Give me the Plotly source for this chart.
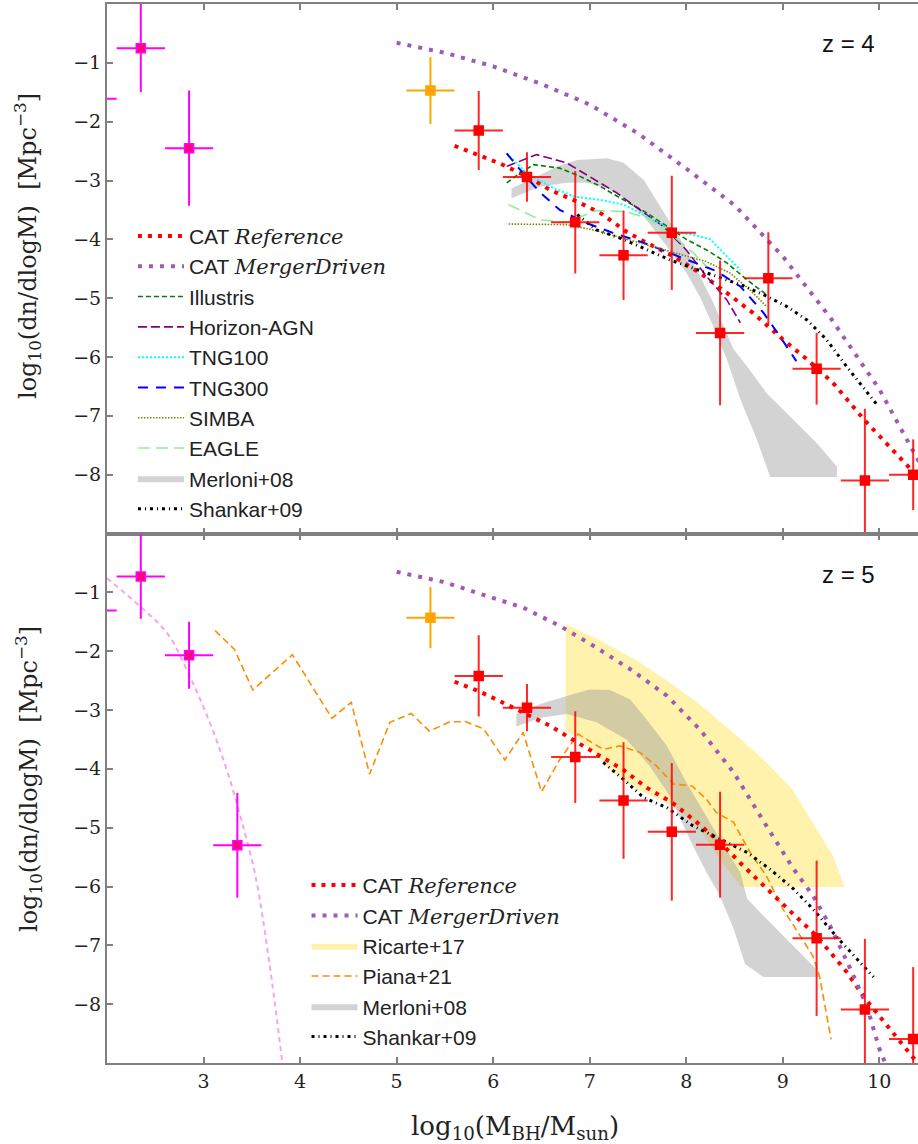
import plotly.graph_objects as go

# ---------------- data: z = 4 panel ----------------
mag4_x = [1.85, 2.35, 2.85]
mag4_y = [-1.61, -0.75, -2.45]
mag4_yerr = [0.75, 0.75, 0.98]
org4_x = [5.35]
org4_y = [-1.47]
org4_yerr = [0.57]
red4_x = [5.85, 6.35, 6.85, 7.35, 7.85, 8.35, 8.85, 9.35, 9.85, 10.35]
red4_y = [-2.15, -2.94, -3.71, -4.27, -3.89, -5.59, -4.66, -6.20, -8.10, -8.00]
red4_yerr = [0.67, 0.42, 0.87, 0.76, 0.97, 1.23, 0.78, 0.61, 1.22, 0.60]
bin_half = 0.25

catref4_x = [5.6, 6.07, 6.35, 6.59, 6.87, 7.11, 7.38, 7.59, 7.87, 8.14, 8.42, 8.69, 9.0, 9.25, 9.52, 9.85, 10.35, 10.6]
catref4_y = [-2.41, -2.71, -2.93, -3.16, -3.36, -3.55, -3.87, -4.06, -4.29, -4.57, -4.91, -5.25, -5.70, -6.04, -6.44, -7.08, -7.95, -8.40]
catmd4_x = [5.0, 5.5, 6.0, 6.5, 7.0, 7.5, 8.0, 8.5, 9.0, 9.5, 10.0, 10.45]
catmd4_y = [-0.66, -0.83, -1.06, -1.36, -1.71, -2.20, -2.80, -3.42, -4.29, -5.35, -6.55, -7.90]

illus_x = [6.14, 6.28, 6.42, 6.69, 6.9, 7.11, 7.35, 7.59, 7.8, 8.0, 8.21, 8.42, 8.63, 8.83]
illus_y = [-3.04, -2.87, -2.73, -2.79, -2.93, -3.10, -3.33, -3.55, -3.78, -4.00, -4.18, -4.40, -4.69, -4.94]
hagn_x = [6.14, 6.45, 6.76, 7.0, 7.28, 7.52, 7.76, 8.0, 8.21, 8.42, 8.56]
hagn_y = [-2.76, -2.56, -2.70, -2.93, -3.21, -3.50, -3.78, -4.18, -4.63, -5.03, -5.42]
tng100_x = [6.14, 6.35, 6.59, 6.83, 7.11, 7.35, 7.59, 7.87, 8.07, 8.25, 8.42, 8.56]
tng100_y = [-2.54, -2.88, -3.10, -3.27, -3.33, -3.41, -3.61, -3.87, -3.92, -4.00, -4.29, -4.52]
tng300_x = [6.14, 6.31, 6.49, 6.69, 6.93, 7.24, 7.56, 7.83, 8.07, 8.31, 8.56, 8.8, 8.97, 9.14]
tng300_y = [-2.54, -2.88, -3.21, -3.50, -3.70, -3.89, -4.06, -4.23, -4.38, -4.54, -4.80, -5.25, -5.65, -6.07]
simba_x = [6.16, 6.42, 6.76, 7.04, 7.35, 7.66, 7.97, 8.21, 8.45, 8.66, 8.83]
simba_y = [-3.74, -3.74, -3.75, -3.84, -3.98, -4.12, -4.26, -4.38, -4.57, -4.86, -5.14]
eagle_x = [6.16, 6.49, 6.76, 6.97, 7.07, 7.38, 7.59, 7.87, 8.07, 8.21]
eagle_y = [-3.41, -3.67, -3.71, -3.58, -3.51, -3.53, -3.64, -3.95, -4.23, -4.46]

merl4_x = [6.19, 6.42, 6.66, 6.87, 7.18, 7.35, 7.56, 7.73, 7.94, 8.11, 8.28, 8.49, 8.63, 8.83, 9.07, 9.35, 9.56, 9.56,
           8.87, 8.73, 8.56, 8.42, 8.28, 8.14, 8.0, 7.8, 7.56, 7.38, 7.18, 6.97, 6.76, 6.49, 6.19]
merl4_y = [-3.13, -2.96, -2.76, -2.65, -2.62, -2.70, -2.99, -3.44, -4.00, -4.52, -5.08, -5.87, -6.16, -6.61, -7.00, -7.46, -7.86, -8.04,
           -8.04, -7.40, -6.72, -6.04, -5.48, -4.97, -4.57, -4.12, -3.61, -3.33, -3.13, -3.04, -3.04, -3.10, -3.30]
shank4_x = [6.87, 7.07, 7.35, 7.59, 7.83, 8.07, 8.31, 8.56, 8.8, 9.04, 9.25, 9.45, 9.66, 9.97]
shank4_y = [-3.58, -3.84, -4.00, -4.18, -4.35, -4.49, -4.63, -4.77, -4.94, -5.14, -5.37, -5.70, -6.16, -6.80]

# ---------------- data: z = 5 panel ----------------
mag5_x = [1.85, 2.35, 2.85, 3.35]
mag5_y = [-1.31, -0.73, -2.07, -5.30]
mag5_yerr = [0.70, 0.72, 0.57, 0.89]
org5_x = [5.35]
org5_y = [-1.43]
org5_yerr = [0.52]
red5_x = [5.85, 6.35, 6.85, 7.35, 7.85, 8.35, 9.35, 9.85, 10.35]
red5_y = [-2.42, -2.96, -3.80, -4.54, -5.07, -5.29, -6.88, -8.09, -8.59]
red5_yerr = [0.69, 0.40, 0.78, 0.99, 1.17, 0.90, 1.32, 1.20, 1.22]

pink5_x = [2.0, 2.35, 2.63, 2.88, 3.09, 3.26, 3.40, 3.54, 3.68, 3.82]
pink5_y = [-0.76, -1.25, -1.71, -2.51, -3.32, -4.12, -4.92, -5.84, -7.28, -9.05]

catref5_x = [5.6, 5.85, 6.07, 6.35, 6.59, 6.85, 7.1, 7.35, 7.59, 7.85, 8.11, 8.35, 8.59, 8.83, 9.07, 9.35, 9.66, 9.85, 10.18, 10.37]
catref5_y = [-2.52, -2.68, -2.85, -3.07, -3.27, -3.53, -3.78, -4.02, -4.32, -4.57, -4.91, -5.25, -5.65, -6.04, -6.41, -6.84, -7.45, -7.90, -8.55, -8.95]
catmd5_x = [5.0, 5.5, 5.93, 6.31, 6.69, 7.07, 7.45, 7.8, 8.14, 8.49, 8.83, 9.11, 9.31, 9.49, 9.70, 9.87, 10.0, 10.06]
catmd5_y = [-0.65, -0.83, -1.06, -1.26, -1.57, -1.94, -2.34, -2.76, -3.33, -4.06, -4.97, -5.70, -6.15, -6.67, -7.40, -8.03, -8.76, -9.00]

ric_x = [6.75, 7.09, 7.47, 7.8, 8.11, 8.45, 8.8, 9.1, 9.33, 9.52, 9.64,
         8.57, 8.42, 8.28, 8.11, 7.93, 7.73, 7.49, 7.24, 7.04, 6.9, 6.75]
ric_y = [-1.54, -1.80, -2.14, -2.50, -2.87, -3.33, -3.84, -4.35, -4.97, -5.48, -6.01,
         -6.01, -5.70, -5.37, -4.97, -4.71, -4.52, -4.35, -4.06, -3.72, -3.50, -3.36]

piana_x = [3.12, 3.32, 3.51, 3.92, 4.33, 4.53, 4.72, 4.93, 5.15, 5.34, 5.55, 5.72, 5.9, 6.12, 6.31, 6.5,
           6.69, 6.88, 7.14, 7.31, 7.52, 7.69, 7.87, 8.06, 8.21, 8.31, 8.49, 8.66, 8.83, 9.0, 9.18, 9.31, 9.38, 9.44, 9.50]
piana_y = [-1.65, -1.97, -2.66, -2.06, -3.14, -2.87, -4.09, -3.21, -3.06, -3.36, -3.20, -3.20, -3.32, -3.85, -3.38, -4.39,
           -3.84, -3.41, -3.67, -3.61, -3.72, -3.95, -4.26, -4.29, -4.52, -4.74, -4.91, -5.42, -5.82, -6.38, -6.84, -7.18, -7.52, -8.03, -8.60]

merl5_x = [6.24, 6.49, 6.76, 7.0, 7.21, 7.42, 7.59, 7.8, 8.0, 8.18, 8.35, 8.56, 8.63, 8.83, 9.11, 9.38, 9.38,
           8.8, 8.61, 8.49, 8.35, 8.21, 8.07, 7.94, 7.83, 7.62, 7.38, 7.07, 6.76, 6.49, 6.24]
merl5_y = [-3.07, -2.90, -2.76, -2.65, -2.66, -2.82, -3.16, -3.61, -4.23, -4.74, -5.20, -5.76, -6.21, -6.55, -7.01, -7.46, -7.54,
           -7.54, -7.32, -6.72, -6.16, -5.76, -5.31, -4.86, -4.46, -3.95, -3.50, -3.21, -3.07, -3.13, -3.28]
shank5_x = [7.14, 7.35, 7.56, 7.80, 8.07, 8.35, 8.63, 8.87, 9.11, 9.31, 9.56, 9.94]
shank5_y = [-3.89, -4.18, -4.49, -4.66, -4.97, -5.20, -5.42, -5.71, -6.04, -6.38, -6.86, -7.54]

ytick_vals = [-1, -2, -3, -4, -5, -6, -7, -8]
xtick_vals = [3, 4, 5, 6, 7, 8, 9, 10]
panel_labels = ["z = 4", "z = 5"]

# ---------------- styles ----------------
RED = "#ff0000"
PURP = "#a159b5"
GRAYFILL = "rgba(150,150,150,0.42)"
YELFILL = "rgba(255,215,0,0.32)"
SERIF = "DejaVu Serif"
SANS = "Liberation Sans"

fig = go.Figure()


def line(x, y, name, color, width, dash, xa, ya, legend=None, show=True, shape="linear"):
    fig.add_trace(go.Scatter(x=x, y=y, mode="lines", name=name,
                             line=dict(color=color, width=width, dash=dash, shape=shape),
                             xaxis=xa, yaxis=ya, showlegend=show,
                             legend=legend if legend else "legend", hoverinfo="skip"))


def band(x, y, name, color, xa, ya, legend):
    fig.add_trace(go.Scatter(x=x, y=y, mode="lines", fill="toself", fillcolor=color,
                             line=dict(width=0, color=color), name=name,
                             xaxis=xa, yaxis=ya, legend=legend, hoverinfo="skip"))


def points(x, y, yerr, color, mcolor, xa, ya, lcolor=None):
    fig.add_trace(go.Scatter(
        x=x, y=y, mode="markers", showlegend=False, hoverinfo="skip",
        marker=dict(symbol="square", size=9, color=mcolor,
                    line=dict(color=lcolor or mcolor, width=1.5)),
        error_x=dict(type="constant", value=bin_half, color=color, thickness=2, width=0),
        error_y=dict(type="data", array=yerr, color=color, thickness=2, width=0),
        xaxis=xa, yaxis=ya))


REF_NAME = "CAT <span style='font-family:DejaVu Serif'><i>Reference</i></span>"
MD_NAME = "CAT <span style='font-family:DejaVu Serif'><i>MergerDriven</i></span>"

# ---- top panel (z = 4) ----
band(merl4_x, merl4_y, "Merloni+08", "#d3d3d3", "x", "y", "legend")
line(catref4_x, catref4_y, REF_NAME, RED, 4, "4px,6px", "x", "y", "legend")
line(catmd4_x, catmd4_y, MD_NAME, PURP, 4, "4px,7px", "x", "y", "legend")
line(illus_x, illus_y, "Illustris", "#008000", 1.6, "5px,3px", "x", "y", "legend")
line(hagn_x, hagn_y, "Horizon-AGN", "#800080", 1.6, "9px,4px", "x", "y", "legend")
line(tng100_x, tng100_y, "TNG100", "#00ffff", 2, "2px,2px", "x", "y", "legend")
line(tng300_x, tng300_y, "TNG300", "#0000ff", 2, "10px,8px", "x", "y", "legend")
line(simba_x, simba_y, "SIMBA", "#808000", 1.6, "1.5px,1.5px", "x", "y", "legend")
line(eagle_x, eagle_y, "EAGLE", "#90ee90", 1.6, "12px,6px", "x", "y", "legend")
line(shank4_x, shank4_y, "Shankar+09", "#000000", 3, "3px,4px,1px,4px", "x", "y", "legend")
points(mag4_x, mag4_y, mag4_yerr, "#ff00ff", "#ff0080", "x", "y", "#ff00ff")
points(org4_x, org4_y, org4_yerr, "#ffa500", "#ffa500", "x", "y")
points(red4_x, red4_y, red4_yerr, "rgba(255,0,0,0.85)", RED, "x", "y")

# ---- bottom panel (z = 5) ----
band(ric_x, ric_y, "Ricarte+17", YELFILL, "x2", "y2", "legend2")
band(merl5_x, merl5_y, "Merloni+08", GRAYFILL, "x2", "y2", "legend2")
line(pink5_x, pink5_y, "pink", "#f7a2f3", 2, "5px,4px", "x2", "y2", "legend2", show=False, shape="spline")
line(piana_x, piana_y, "Piana+21", "#ff8c00", 1.6, "7px,4px", "x2", "y2", "legend2")
line(catref5_x, catref5_y, REF_NAME, RED, 4, "4px,6px", "x2", "y2", "legend2")
line(catmd5_x, catmd5_y, MD_NAME, PURP, 4, "4px,7px", "x2", "y2", "legend2")
line(shank5_x, shank5_y, "Shankar+09", "#000000", 3, "3px,4px,1px,4px", "x2", "y2", "legend2")
points(mag5_x, mag5_y, mag5_yerr, "#ff00ff", "#ff0080", "x2", "y2", "#ff00ff")
points(org5_x, org5_y, org5_yerr, "#ffa500", "#ffa500", "x2", "y2")
points(red5_x, red5_y, red5_yerr, "rgba(255,0,0,0.85)", RED, "x2", "y2")

# legend order
order4 = [REF_NAME, MD_NAME, "Illustris", "Horizon-AGN", "TNG100", "TNG300", "SIMBA", "EAGLE", "Merloni+08", "Shankar+09"]
order5 = [REF_NAME, MD_NAME, "Ricarte+17", "Piana+21", "Merloni+08", "Shankar+09"]
for tr in fig.data:
    if tr.showlegend is False:
        continue
    if tr.legend == "legend2":
        tr.legendrank = order5.index(tr.name) + 1
    else:
        tr.legendrank = order4.index(tr.name) + 1

axis_common = dict(range=[2.0, 10.40], tickvals=xtick_vals, ticks="inside", ticklen=6,
                   tickcolor="#808080", tickwidth=1.5, showline=True, linecolor="#808080",
                   linewidth=2, mirror="ticks", showgrid=False, zeroline=False)
yaxis_common = dict(range=[-9, 0], tickvals=ytick_vals, ticks="inside", ticklen=6,
                    tickcolor="#808080", tickwidth=1.5, showline=True, linecolor="#808080",
                    linewidth=2, showgrid=False, zeroline=False,
                    tickfont=dict(family=SERIF, size=19, color="#222"))

legend_font = dict(family=SANS, size=21, color="#222")

fig.update_layout(
    width=918, height=1144,
    margin=dict(l=107, r=0, t=4, b=81),
    plot_bgcolor="white", paper_bgcolor="white",
    xaxis=dict(axis_common, anchor="y", domain=[0, 1], showticklabels=False),
    yaxis=dict(yaxis_common, anchor="x", domain=[0.5, 1]),
    xaxis2=dict(axis_common, anchor="y2", domain=[0, 1],
                tickfont=dict(family=SERIF, size=19, color="#222")),
    yaxis2=dict(yaxis_common, anchor="x2", domain=[0, 0.5]),
    legend=dict(x=0.032, y=0.800, xanchor="left", yanchor="top", bgcolor="rgba(0,0,0,0)",
                font=legend_font, traceorder="normal", itemwidth=46),
    legend2=dict(x=0.246, y=0.187, xanchor="left", yanchor="top", bgcolor="rgba(0,0,0,0)",
                 font=legend_font, traceorder="normal", itemwidth=46),
    showlegend=True,
)

annots = [
    dict(text=panel_labels[0], xref="paper", yref="paper", x=(848 - 107) / 811, y=1 - (44 - 4) / 1059,
         showarrow=False, font=dict(family=SANS, size=24, color="#111"), xanchor="center", yanchor="middle"),
    dict(text=panel_labels[1], xref="paper", yref="paper", x=(848 - 107) / 811, y=1 - (574 - 4) / 1059,
         showarrow=False, font=dict(family=SANS, size=24, color="#111"), xanchor="center", yanchor="middle"),
    dict(text="log<sub>10</sub>(dn/dlogM)  [Mpc<sup>−3</sup>]", xref="paper", yref="paper",
         x=0, xshift=-79, y=1 - (246 - 4) / 1059, textangle=-90, showarrow=False,
         font=dict(family=SERIF, size=24, color="#222"), xanchor="center", yanchor="middle"),
    dict(text="log<sub>10</sub>(dn/dlogM)  [Mpc<sup>−3</sup>]", xref="paper", yref="paper",
         x=0, xshift=-79, y=1 - (779 - 4) / 1059, textangle=-90, showarrow=False,
         font=dict(family=SERIF, size=24, color="#222"), xanchor="center", yanchor="middle"),
    dict(text="log<sub>10</sub>(M<sub>BH</sub>/M<sub>sun</sub>)", xref="paper", yref="paper",
         x=(515 - 107) / 811, y=0, yshift=-64, showarrow=False,
         font=dict(family=SERIF, size=26, color="#222"), xanchor="center", yanchor="middle"),
]
fig.update_layout(annotations=annots)

fig.write_html("out.html", config={"displayModeBar": False},
               post_script="document.body.style.margin='0px';document.body.style.overflow='hidden';")
